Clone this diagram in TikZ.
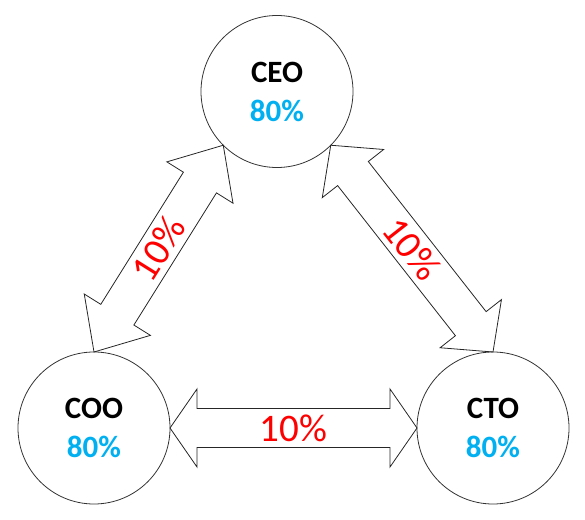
\documentclass[tikz,border=0pt]{standalone}
\usepackage{fontspec}
\setmainfont{Carlito}
\usepackage{tikz}
\usetikzlibrary{calc}

\definecolor{pctblue}{HTML}{00B0F0}

\newcommand{\headw}{39}
\newcommand{\shaftw}{19.5}
% block double arrow from #1 to #2, head length #3, label #4, label name #5
\newcommand{\blockarrow}[5]{%
  \draw[arrowline] let \p1=(#1), \p2=(#2),
      \n1={atan2(\y2-\y1,\x2-\x1)}, \n2={veclen(\x2-\x1,\y2-\y1)} in
    [shift={(\p1)}, rotate=\n1]
    (0,0) -- (#3,\headw) -- (#3,\shaftw) -- (\n2-#3,\shaftw) -- (\n2-#3,\headw)
    -- (\n2,0) -- (\n2-#3,-\headw) -- (\n2-#3,-\shaftw) -- (#3,-\shaftw)
    -- (#3,-\headw) -- cycle
    (\n2/2,0) node[share, rotate=\n1] (#5) {#4};}

\begin{document}
\begin{tikzpicture}[x=1pt,y=1pt,
    role/.style={circle, draw=black!80, line width=0.8pt, minimum size=152pt,
      inner sep=0pt, outer sep=0pt, align=center,
      font=\fontsize{31}{39}\selectfont\bfseries},
    share/.style={text=red, font=\fontsize{39}{39}\selectfont, inner sep=0pt},
    arrowline/.style={draw=black!85, line width=0.8pt, line join=miter}]
  \useasboundingbox (0,0) rectangle (585,519);

  \node[role] (ceo) at (277,427.5) {CEO\\\textcolor{pctblue}{80\%}};
  \node[role] (coo) at (94,91) {COO\\\textcolor{pctblue}{80\%}};
  \node[role] (cto) at (493,91) {CTO\\\textcolor{pctblue}{80\%}};

  % shares between the roles
  \blockarrow{coo.east}{cto.west}{27}{10\%}{share-cc}
  \blockarrow{coo.north}{ceo.south west}{44}{10\%}{share-ce}
  \blockarrow{ceo.south east}{cto.north}{36}{10\%}{share-et}
\end{tikzpicture}
\end{document}
